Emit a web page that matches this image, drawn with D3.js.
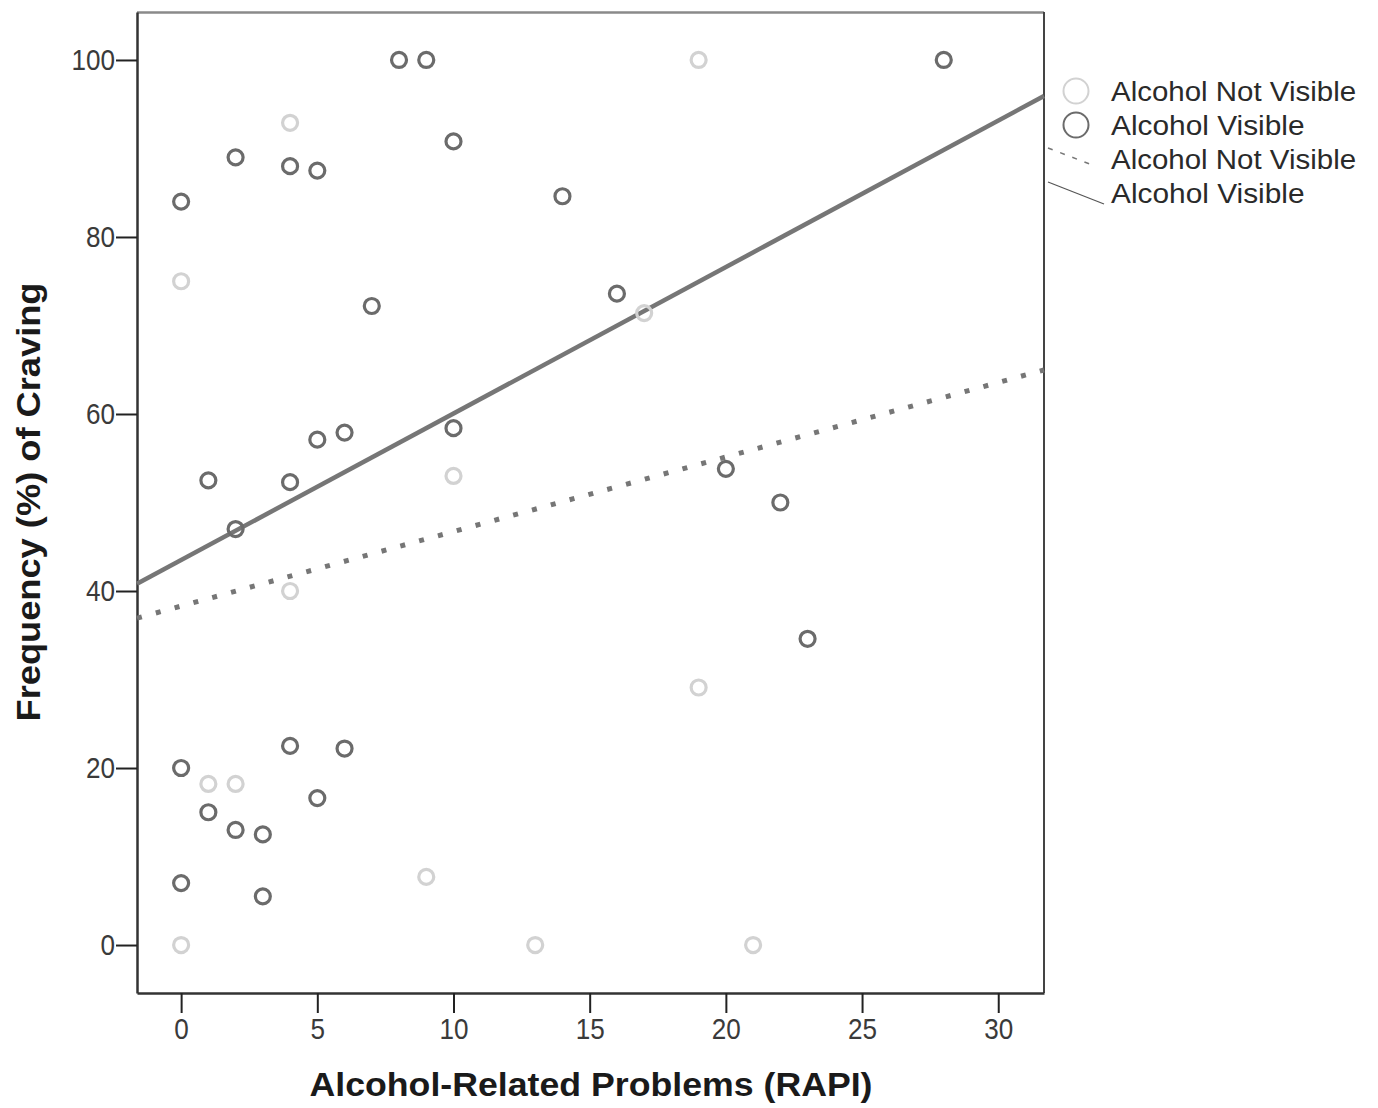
<!doctype html>
<html lang="en">
  <head>
    <meta charset="utf-8">
    <script src="https://cdn.jsdelivr.net/npm/d3@7"></script>
    <style>
body { margin: 0; background: #fff; }
svg text { font-family: "Liberation Sans", Arial, sans-serif; }
.tick text { font-size: 30px; fill: #3a3a3a; }
.axis-title { font-size: 33px; font-weight: bold; fill: #1a1a1a; }
.legend text { font-size: 27px; fill: #2a2a2a; }
    </style>
  </head>
  <body>
    <svg id="chart" width="1378" height="1108"></svg>
    <script>
//=============================== DATA ===================================
// Alcohol Visible
var visX = [0, 0, 0, 1, 1, 2, 2, 2, 3, 3, 4, 4, 4, 5, 5, 5, 6, 6, 7, 8, 9, 10, 10, 14, 16, 20, 22, 23, 28]
var visY = [84, 20, 7, 52.5, 15, 89, 47, 13, 12.5, 5.5, 88, 52.3, 22.5, 87.5, 57.1, 16.6, 57.9, 22.2, 72.2, 100, 100, 90.8, 58.4, 84.6, 73.6, 53.8, 50, 34.6, 100]
// Alcohol Not Visible
var notX = [0, 0, 1, 2, 4, 4, 9, 10, 13, 17, 19, 19, 21]
var notY = [75, 0, 18.2, 18.2, 92.9, 40, 7.7, 53, 0, 71.4, 100, 29.1, 0]
// fit lines [intercept, slope]
var fitVisible = [43.5, 1.655]
var fitNotVisible = [38.3, 0.842]

var xTicks = [0, 5, 10, 15, 20, 25, 30]
var yTicks = [0, 20, 40, 60, 80, 100]
var legendLabels = ['Alcohol Not Visible', 'Alcohol Visible', 'Alcohol Not Visible', 'Alcohol Visible']

//=============================== DRAW ===================================
var colVis = '#6b6b6b', colNot = '#d2d2d2', colLine = '#767676'
var L = 137, R = 1044, T = 12, B = 993

var x = d3.scaleLinear().domain([-1.62, 31.68]).range([L, R])
var y = d3.scaleLinear().domain([-5.42, 105.42]).range([B, T])

var svg = d3.select('#chart')

// frame
svg.append('line').attr('x1', L).attr('x2', R).attr('y1', T + 0.5).attr('y2', T + 0.5)
	.attr('stroke', '#8a8a8a').attr('stroke-width', 2.5)
svg.append('line').attr('x1', R).attr('x2', R).attr('y1', T).attr('y2', B)
	.attr('stroke', '#444').attr('stroke-width', 2)

var gx = svg.append('g').attr('transform', 'translate(0,' + B + ')')
	.call(d3.axisBottom(x).tickValues(xTicks).tickSize(20).tickSizeOuter(0).tickPadding(5))
var gy = svg.append('g').attr('transform', 'translate(' + L + ',0)')
	.call(d3.axisLeft(y).tickValues(yTicks).tickSize(21).tickSizeOuter(0).tickPadding(1))
;[gx, gy].forEach((g)=>{
	g.select('.domain').attr('stroke', '#333').attr('stroke-width', 2.5)
	g.selectAll('.tick line').attr('stroke', '#222').attr('stroke-width', 2)
	g.selectAll('.tick text')
		.attr('textLength', function() { return this.textContent.length * 14.5 })
		.attr('lengthAdjust', 'spacingAndGlyphs')
})

// fit lines
var xd = x.domain()
function fitPts(f) { return xd.map((v)=>[v, f[0] + f[1] * v]) }
var line = d3.line().x((d)=>x(d[0])).y((d)=>y(d[1]))
svg.append('path').datum(fitPts(fitNotVisible)).attr('d', line)
	.attr('fill', 'none').attr('stroke', colLine).attr('stroke-width', 5)
	.attr('stroke-dasharray', '5,14.5')
svg.append('path').datum(fitPts(fitVisible)).attr('d', line)
	.attr('fill', 'none').attr('stroke', colLine).attr('stroke-width', 4.5)

// points
function drawPts(xs, ys, col) {
	svg.append('g').selectAll('circle')
		.data(xs.map((v, i)=>[v, ys[i]])).enter()
		.append('circle')
		.attr('cx', (d)=>x(d[0])).attr('cy', (d)=>y(d[1])).attr('r', 7.5)
		.attr('fill', 'none').attr('stroke', col).attr('stroke-width', 3.2)
}
drawPts(notX, notY, colNot)
drawPts(visX, visY, colVis)

// axis titles
svg.append('text').attr('class', 'axis-title')
	.attr('x', 591).attr('y', 1096).attr('text-anchor', 'middle')
	.attr('textLength', 563).attr('lengthAdjust', 'spacingAndGlyphs')
	.text('Alcohol-Related Problems (RAPI)')
svg.append('text').attr('class', 'axis-title')
	.attr('transform', 'translate(40,502) rotate(-90)')
	.attr('text-anchor', 'middle')
	.attr('textLength', 439).attr('lengthAdjust', 'spacingAndGlyphs')
	.text('Frequency (%) of Craving')

// legend
var lg = svg.append('g').attr('class', 'legend')
lg.append('circle').attr('cx', 1076).attr('cy', 91).attr('r', 12.5)
	.attr('fill', 'none').attr('stroke', colNot).attr('stroke-width', 2)
lg.append('circle').attr('cx', 1076).attr('cy', 125).attr('r', 12.5)
	.attr('fill', 'none').attr('stroke', colVis).attr('stroke-width', 2)
lg.append('line').attr('x1', 1048).attr('y1', 148).attr('x2', 1095).attr('y2', 166)
	.attr('stroke', '#777').attr('stroke-width', 1.5).attr('stroke-dasharray', '5,8')
lg.append('line').attr('x1', 1048).attr('y1', 182).attr('x2', 1104).attr('y2', 204)
	.attr('stroke', '#555').attr('stroke-width', 1.2)
lg.selectAll('text').data(legendLabels).enter().append('text')
	.attr('x', 1111).attr('y', (d, i)=>101 + i * 34)
	.attr('textLength', (d)=>d.length * 12.9)
	.attr('lengthAdjust', 'spacingAndGlyphs')
	.text((d)=>d)
    </script>
  </body>
</html>
